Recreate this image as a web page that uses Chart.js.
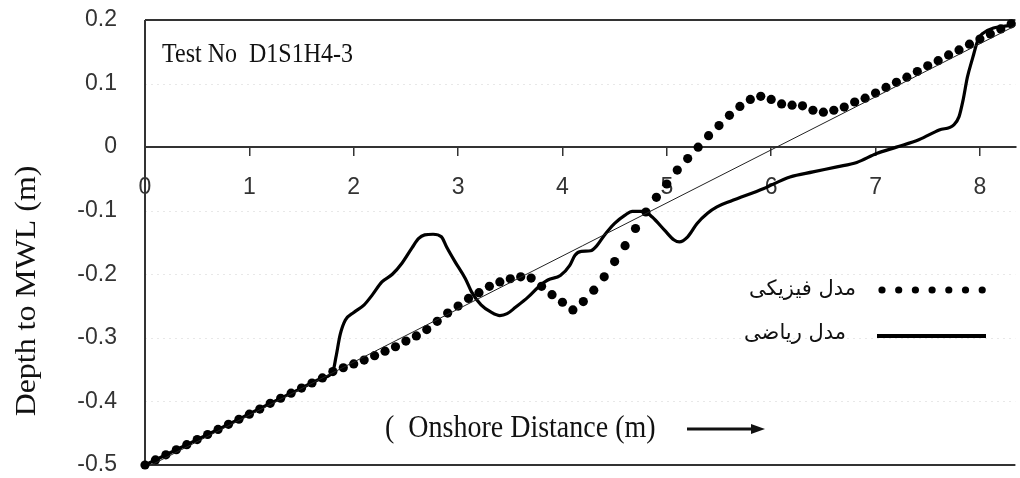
<!DOCTYPE html>
<html><head><meta charset="utf-8">
<script src="https://cdn.jsdelivr.net/npm/chart.js@4.4.1/dist/chart.umd.min.js"></script>
<style>html,body{margin:0;padding:0;background:#fff;overflow:hidden}#wrap{width:1020px;height:478px;position:relative}</style>
</head><body><div id="wrap"><canvas id="c" width="1020" height="478"></canvas></div>
<script>
// ---- data ----
const xTicks = [0, 1, 2, 3, 4, 5, 6, 7, 8];
const yTicks = [0.2, 0.1, 0, -0.1, -0.2, -0.3, -0.4, -0.5];
const xMin = 0, xMax = 8.34, yMin = -0.5, yMax = 0.2;
const faintLevels = [0.1, -0.1, -0.2, -0.3, -0.4];

// physical model (dots)
const physX = [0.0,0.1,0.2,0.3,0.4,0.5,0.6,0.7,0.8,0.9,
  1.0,1.1,1.2,1.3,1.4,1.5,1.6,1.7,1.8,1.9,
  2.0,2.1,2.2,2.3,2.4,2.5,2.6,2.7,2.8,2.9,
  3.0,3.1,3.2,3.3,3.4,3.5,3.6,3.7,3.8,3.9,
  4.0,4.1,4.2,4.3,4.4,4.5,4.6,4.7,4.8,4.9,
  5.0,5.1,5.2,5.3,5.4,5.5,5.6,5.7,5.8,5.9,
  6.0,6.1,6.2,6.3,6.4,6.5,6.6,6.7,6.8,6.9,
  7.0,7.1,7.2,7.3,7.4,7.5,7.6,7.7,7.8,7.9,
  8.0,8.1,8.2,8.3];
const physY = [-0.500,-0.492,-0.484,-0.476,-0.468,-0.460,-0.452,-0.444,-0.436,-0.428,
  -0.420,-0.412,-0.403,-0.395,-0.387,-0.379,-0.371,-0.363,-0.353,-0.347,
  -0.341,-0.335,-0.328,-0.321,-0.314,-0.305,-0.297,-0.287,-0.274,-0.261,
  -0.250,-0.238,-0.229,-0.219,-0.212,-0.207,-0.204,-0.206,-0.219,-0.232,
  -0.244,-0.256,-0.243,-0.225,-0.204,-0.180,-0.155,-0.128,-0.102,-0.079,
  -0.058,-0.036,-0.018,0.000,0.018,0.034,0.050,0.064,0.075,0.080,
  0.075,0.068,0.066,0.065,0.058,0.055,0.058,0.063,0.071,0.077,
  0.085,0.094,0.102,0.110,0.119,0.128,0.136,0.145,0.153,0.162,
  0.170,0.178,0.186,0.194];

// mathematical model (solid line)
const mathX = [0.00,0.30,0.60,0.90,1.20,1.50,1.70,1.80,1.83,1.87,1.92,2.00,2.10,2.18,2.27,2.37,2.46,2.56,2.62,2.68,2.76,2.84,2.89,2.97,
  3.07,3.13,3.22,3.32,3.40,3.47,3.55,3.67,3.77,3.86,3.98,4.07,4.12,4.18,4.27,4.33,4.40,4.50,
  4.60,4.67,4.78,4.86,4.98,5.07,5.12,5.20,5.29,5.39,5.48,5.61,5.93,6.18,6.40,6.63,6.82,7.01,
  7.20,7.42,7.61,7.75,7.80,7.84,7.88,7.93,7.98,8.02,8.34];
const mathY = [-0.500,-0.476,-0.452,-0.428,-0.403,-0.379,-0.363,-0.353,-0.330,-0.295,-0.272,-0.260,-0.248,-0.232,-0.212,-0.200,-0.183,-0.158,-0.144,-0.138,-0.137,-0.141,-0.157,-0.180,
  -0.207,-0.228,-0.248,-0.260,-0.265,-0.262,-0.252,-0.236,-0.220,-0.209,-0.202,-0.186,-0.170,-0.164,-0.163,-0.155,-0.139,-0.120,
  -0.107,-0.101,-0.101,-0.110,-0.131,-0.146,-0.149,-0.141,-0.120,-0.104,-0.094,-0.085,-0.065,-0.047,-0.039,-0.031,-0.024,-0.010,
  0.000,0.012,0.027,0.035,0.048,0.075,0.110,0.140,0.168,0.178,0.193];

// initial profile (thin straight line)
const refX = [0, 8.34];
const refY = [-0.505, 0.191];

const legendLabels = ['مدل فیزیکی', 'مدل ریاضی'];
const testLabel = 'Test No  D1S1H4-3';
const yTitle = 'Depth to MWL (m)';
const xNote = '(  Onshore Distance (m)';

// ---- chart ----
const toPts = (xs, ys) => xs.map((x, i) => ({x: x, y: ys[i]}));
const fmt = v => { const r = Math.round(v * 10) / 10; return r === 0 ? '0' : String(r); };
const noPad = s => { s.paddingTop = 0; s.paddingBottom = 0; s.paddingLeft = 0; s.paddingRight = 0; };

const decor = {
  id: 'decor',
  beforeDatasetsDraw(chart) {
    const {ctx, chartArea: a, scales: {y}} = chart;
    ctx.save();
    ctx.strokeStyle = 'rgba(0,0,0,0.09)';
    ctx.lineWidth = 1;
    ctx.setLineDash([2, 4]);
    faintLevels.forEach(v => {
      const py = Math.round(y.getPixelForValue(v)) + 0.5;
      ctx.beginPath(); ctx.moveTo(a.left, py); ctx.lineTo(a.right, py); ctx.stroke();
    });
    ctx.setLineDash([]);
    ctx.strokeStyle = '#333';
    ctx.lineWidth = 2;
    ctx.beginPath();
    ctx.moveTo(a.left, a.top); ctx.lineTo(a.right, a.top);
    ctx.moveTo(a.left, a.bottom); ctx.lineTo(a.right, a.bottom);
    ctx.moveTo(a.left, a.top); ctx.lineTo(a.left, a.bottom);
    ctx.stroke();
    ctx.restore();
  },
  afterDraw(chart) {
    const {ctx} = chart;
    ctx.save();
    ctx.fillStyle = '#111';
    // Test label
    ctx.save();
    ctx.translate(162, 62); ctx.scale(1, 1.13);
    ctx.font = '24px "Liberation Serif"';
    ctx.textAlign = 'left'; ctx.textBaseline = 'alphabetic';
    ctx.fillText(testLabel, 0, 0);
    ctx.restore();
    // y title
    ctx.save();
    ctx.translate(27, 291); ctx.rotate(-Math.PI / 2); ctx.scale(1.1, 1);
    ctx.font = '29px "Liberation Serif"';
    ctx.textAlign = 'center'; ctx.textBaseline = 'middle';
    ctx.fillText(yTitle, 0, 0);
    ctx.restore();
    // onshore note
    ctx.save();
    ctx.translate(385, 437); ctx.scale(1, 1.15);
    ctx.font = '28px "Liberation Serif"';
    ctx.textAlign = 'left'; ctx.textBaseline = 'alphabetic';
    ctx.fillText(xNote, 0, 0);
    ctx.restore();
    // arrow
    ctx.strokeStyle = '#111'; ctx.lineWidth = 3;
    ctx.beginPath(); ctx.moveTo(687, 429); ctx.lineTo(754, 429); ctx.stroke();
    ctx.beginPath(); ctx.moveTo(765, 429); ctx.lineTo(751, 424); ctx.lineTo(751, 434); ctx.closePath(); ctx.fill();
    // legend
    ctx.fillStyle = '#000';
    for (let i = 0; i < 7; i++) {
      ctx.beginPath(); ctx.arc(882 + i * 16.7, 290, 3.6, 0, Math.PI * 2); ctx.fill();
    }
    ctx.lineWidth = 4; ctx.strokeStyle = '#000';
    ctx.beginPath(); ctx.moveTo(877, 336); ctx.lineTo(986, 336); ctx.stroke();
    ctx.fillStyle = '#111';
    ctx.font = '21px "DejaVu Sans"';
    ctx.direction = 'rtl';
    ctx.textAlign = 'right'; ctx.textBaseline = 'alphabetic';
    ctx.fillText(legendLabels[0], 856, 295);
    ctx.fillText(legendLabels[1], 846, 339);
    ctx.restore();
  }
};

new Chart(document.getElementById('c'), {
  type: 'line',
  data: {
    datasets: [
      {label: 'profile', data: toPts(refX, refY), borderColor: '#222', borderWidth: 1, pointRadius: 0, tension: 0},
      {label: legendLabels[0], data: toPts(physX, physY), showLine: false, pointRadius: 4.6,
       pointBackgroundColor: '#000', pointBorderWidth: 0, clip: false},
      {label: legendLabels[1], data: toPts(mathX, mathY), borderColor: '#000', borderWidth: 3.2,
       pointRadius: 0, cubicInterpolationMode: 'monotone'}
    ]
  },
  options: {
    responsive: false,
    animation: false,
    layout: {padding: {top: 20, bottom: 13, left: 0, right: 0}},
    plugins: {legend: {display: false}, tooltip: {enabled: false}},
    scales: {
      x: {
        type: 'linear', min: xMin, max: xMax, position: {y: 0},
        afterBuildTicks: s => { s.ticks = xTicks.map(v => ({value: v})); },
        afterFit: noPad,
        grid: {drawOnChartArea: false, drawTicks: true, tickLength: 8, color: '#333', lineWidth: 1.5},
        border: {display: true, color: '#333', width: 2},
        ticks: {padding: 19, color: '#333', maxRotation: 0, autoSkip: false,
                font: {family: 'Liberation Sans', size: 23}, callback: v => fmt(v)}
      },
      y: {
        type: 'linear', min: yMin, max: yMax,
        afterBuildTicks: s => { s.ticks = yTicks.map(v => ({value: v})); },
        afterFit: s => { s.width = 145; noPad(s); },
        grid: {display: false},
        border: {display: false},
        ticks: {padding: 20, color: '#333', font: {family: 'Liberation Sans', size: 23}, callback: v => fmt(v)}
      }
    }
  },
  plugins: [decor]
});
</script>
</body></html>
